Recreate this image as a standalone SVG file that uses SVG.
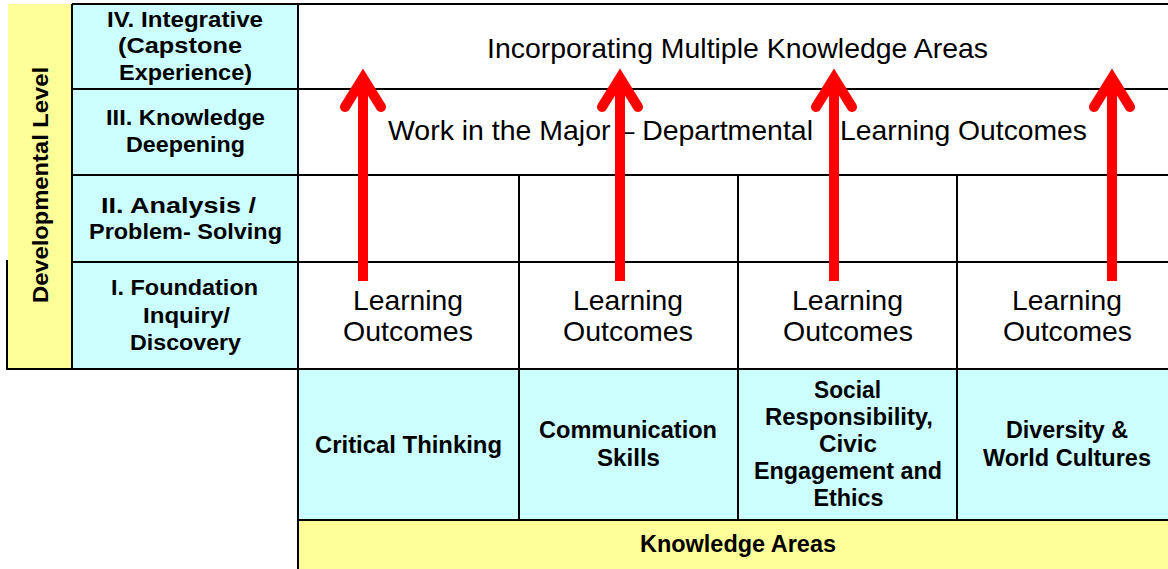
<svg xmlns="http://www.w3.org/2000/svg" width="1168" height="569" viewBox="0 0 1168 569">
<style>
.b{font-family:"Liberation Sans",Arial,sans-serif;font-weight:bold;font-size:22px;fill:#000;text-anchor:middle}
.k{font-family:"Liberation Sans",Arial,sans-serif;font-weight:bold;font-size:23px;fill:#000;text-anchor:middle}
.r{font-family:"Liberation Sans",Arial,sans-serif;font-size:28px;fill:#000;text-anchor:middle}
.ln{stroke:#000;stroke-width:2;fill:none}
.cy{fill:#CCFFFF}
.ye{fill:#FFFF99}
.arr{stroke:#FF0000;stroke-width:10;fill:none}
</style>
<rect width="1168" height="569" fill="#fff"/>
<g id="developmental-level">
<rect class="ye" x="8" y="4" width="64" height="365"/>
<text class="b" transform="translate(48,185) rotate(-90)" x="0" y="0" textLength="236" lengthAdjust="spacingAndGlyphs">Developmental Level</text>
</g>
<g id="level-iv">
<rect class="cy" x="72" y="4" width="226" height="85"/>
<text class="b" x="185" y="27" textLength="156" lengthAdjust="spacingAndGlyphs">IV. Integrative</text>
<text class="b" x="180" y="53" textLength="124" lengthAdjust="spacingAndGlyphs">(Capstone</text>
<text class="b" x="185.5" y="80" textLength="133" lengthAdjust="spacingAndGlyphs">Experience)</text>
</g>
<g id="level-iii">
<rect class="cy" x="72" y="89" width="226" height="86"/>
<text class="b" x="185.5" y="125" textLength="159" lengthAdjust="spacingAndGlyphs">III. Knowledge</text>
<text class="b" x="185.5" y="152" textLength="119" lengthAdjust="spacingAndGlyphs">Deepening</text>
</g>
<g id="level-ii">
<rect class="cy" x="72" y="175" width="226" height="87"/>
<text class="b" x="178.5" y="213" textLength="155" lengthAdjust="spacingAndGlyphs">II. Analysis /</text>
<text class="b" x="185.5" y="239" textLength="193" lengthAdjust="spacingAndGlyphs">Problem- Solving</text>
</g>
<g id="level-i">
<rect class="cy" x="72" y="262" width="226" height="107"/>
<text class="b" x="184.5" y="295" textLength="147" lengthAdjust="spacingAndGlyphs">I. Foundation</text>
<text class="b" x="186.5" y="323" textLength="87" lengthAdjust="spacingAndGlyphs">Inquiry/</text>
<text class="b" x="185.5" y="350" textLength="111" lengthAdjust="spacingAndGlyphs">Discovery</text>
</g>
<g id="integrative-row">
<text class="r" x="737.5" y="58" textLength="501" lengthAdjust="spacingAndGlyphs">Incorporating Multiple Knowledge Areas</text>
</g>
<g id="major-row">
<text class="r" xml:space="preserve"><tspan x="600.5" y="140" textLength="425" lengthAdjust="spacingAndGlyphs">Work in the Major – Departmental</tspan><tspan x="963.5" y="140" textLength="247" lengthAdjust="spacingAndGlyphs">Learning Outcomes</tspan></text>
</g>
<g id="outcomes-1">
<text class="r" x="408" y="310" textLength="110" lengthAdjust="spacingAndGlyphs">Learning</text>
<text class="r" x="408" y="341" textLength="130" lengthAdjust="spacingAndGlyphs">Outcomes</text>
</g>
<g id="outcomes-2">
<text class="r" x="628" y="310" textLength="110" lengthAdjust="spacingAndGlyphs">Learning</text>
<text class="r" x="628" y="341" textLength="130" lengthAdjust="spacingAndGlyphs">Outcomes</text>
</g>
<g id="outcomes-3">
<text class="r" x="847.5" y="310" textLength="111" lengthAdjust="spacingAndGlyphs">Learning</text>
<text class="r" x="848" y="341" textLength="130" lengthAdjust="spacingAndGlyphs">Outcomes</text>
</g>
<g id="outcomes-4">
<text class="r" x="1067" y="310" textLength="110" lengthAdjust="spacingAndGlyphs">Learning</text>
<text class="r" x="1067.5" y="341" textLength="129" lengthAdjust="spacingAndGlyphs">Outcomes</text>
</g>
<g id="ka-critical-thinking">
<rect class="cy" x="298" y="370" width="221" height="150"/>
<text class="k" x="408.5" y="453" textLength="187" lengthAdjust="spacingAndGlyphs">Critical Thinking</text>
</g>
<g id="ka-communication">
<rect class="cy" x="519" y="370" width="219" height="150"/>
<text class="k" x="628" y="438" textLength="178" lengthAdjust="spacingAndGlyphs">Communication</text>
<text class="k" x="628.5" y="466" textLength="63" lengthAdjust="spacingAndGlyphs">Skills</text>
</g>
<g id="ka-social">
<rect class="cy" x="738" y="370" width="219" height="150"/>
<text class="k" x="847.5" y="398" textLength="67" lengthAdjust="spacingAndGlyphs">Social</text>
<text class="k" x="849" y="425" textLength="168" lengthAdjust="spacingAndGlyphs">Responsibility,</text>
<text class="k" x="848" y="452" textLength="58" lengthAdjust="spacingAndGlyphs">Civic</text>
<text class="k" x="848" y="479" textLength="188" lengthAdjust="spacingAndGlyphs">Engagement and</text>
<text class="k" x="848.5" y="506" textLength="70" lengthAdjust="spacingAndGlyphs">Ethics</text>
</g>
<g id="ka-diversity">
<rect class="cy" x="957" y="370" width="211" height="150"/>
<text class="k" x="1067" y="438" textLength="122" lengthAdjust="spacingAndGlyphs">Diversity &amp;</text>
<text class="k" x="1067" y="466" textLength="168" lengthAdjust="spacingAndGlyphs">World Cultures</text>
</g>
<g id="knowledge-areas">
<rect class="ye" x="298" y="521" width="870" height="48"/>
<text class="k" x="738" y="552" textLength="196" lengthAdjust="spacingAndGlyphs">Knowledge Areas</text>
</g>
<g id="grid">
<path class="ln" d="M72 4H1168M298 89H1168M298 175H1168M298 262H1168M7 369H1168M298 520H1168M72 89H298M72 175H298M72 262H298"/>
<path class="ln" d="M72 4V369M298 4V569M519 175V520M738 175V520M957 175V520M7 260V370"/>
</g>
<g id="connectors">
<path class="arr" d="M363 281V80M620 281V80M834 281V80M1112 281V80"/>
<path class="arr" stroke-linecap="round" stroke-linejoin="miter" d="M345 107L363 78L381 107M602 107L620 78L638 107M816 107L834 78L852 107M1094 107L1112 78L1130 107"/>
</g>
</svg>
